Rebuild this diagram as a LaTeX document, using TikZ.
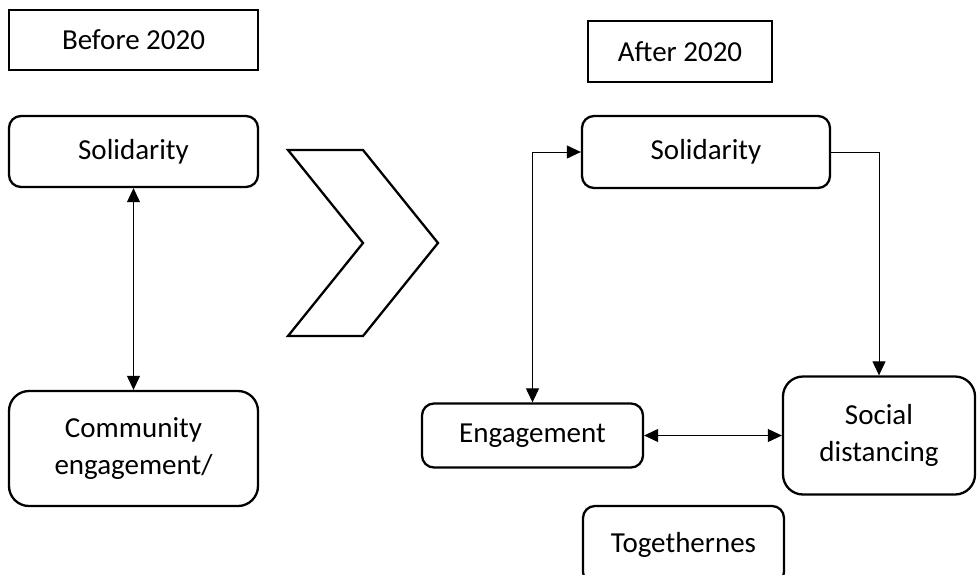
\documentclass[tikz,border=0pt]{standalone}
\usepackage{fontspec}
\setmainfont{Carlito}
\usetikzlibrary{arrows.meta}
\begin{document}
\begin{tikzpicture}[x=1pt,y=-1pt,
  every node/.style={font=\fontsize{29}{37}\selectfont, align=center, inner sep=0pt},
  sqbox/.style={draw, line width=2.3pt, rectangle},
  rbox/.style={draw, line width=2.3pt, rectangle, rounded corners=12pt},
  bigbox/.style={draw, line width=2.3pt, rectangle, rounded corners=20pt},
  conn/.style={line width=1pt},
  tip/.style={-{Triangle[length=14pt,width=13pt]}},
  tips/.style={{Triangle[length=14pt,width=13pt]}-{Triangle[length=14pt,width=13pt]}}
]
\useasboundingbox (0,0) rectangle (977,574);
\clip (0,0) rectangle (977,574);
% left column
\node[sqbox, minimum width=249pt, minimum height=60pt] (before) at (133.5,40) {Before 2020};
\node[rbox, minimum width=249pt, minimum height=71pt] (sol1) at (133.5,151.5) {Solidarity};
\node[bigbox, minimum width=249pt, minimum height=115pt] (com) at (133.5,448.5) {Community\\engagement/};
\draw[conn, tips] (sol1.south) -- (com.north);
% chevron
\draw[line width=2.3pt, line join=miter] (288,150) -- (363,150) -- (438,243) -- (363,336) -- (288,336) -- (363,243) -- cycle;
% right side
\node[sqbox, minimum width=184pt, minimum height=61pt] (after) at (680,51.5) {After 2020};
\node[rbox, minimum width=248pt, minimum height=72pt] (sol2) at (706,152) {Solidarity};
\node[rbox, minimum width=221pt, minimum height=64pt] (eng) at (532.5,435.5) {Engagement};
\node[bigbox, minimum width=192pt, minimum height=118pt] (soc) at (879,435.5) {Social\\distancing};
\node[rbox, minimum width=201pt, minimum height=78pt] (tog) at (683.5,545) {Togethernes};
\draw[conn, tips] (sol2.west) -| (eng.north);
\draw[conn, tip] (sol2.east) -| (soc.north);
\draw[conn, tips] (eng.east) -- (soc.west);
\end{tikzpicture}
\end{document}
